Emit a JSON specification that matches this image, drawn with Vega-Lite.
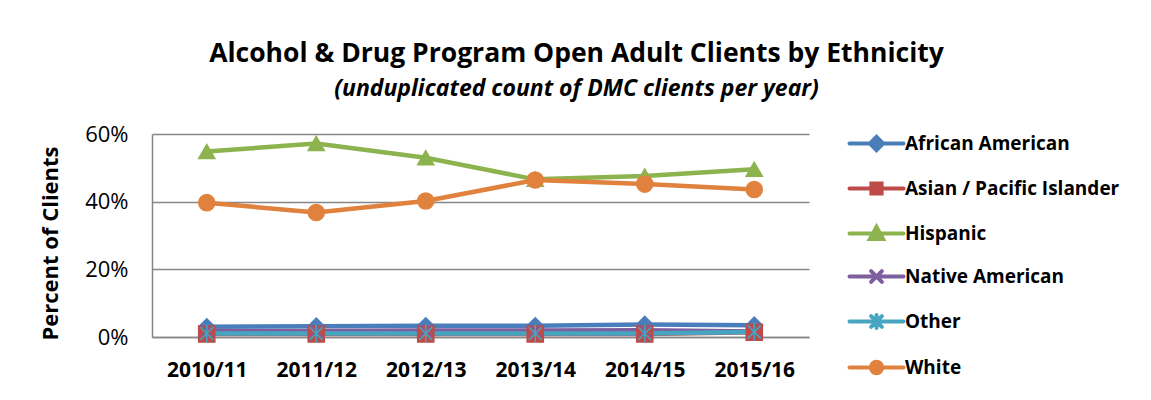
{
  "$schema": "https://vega.github.io/schema/vega-lite/v6.json",
  "width": 657,
  "height": 203,
  "autosize": {"type": "none"},
  "padding": {"left": 152, "top": 134, "right": 342, "bottom": 63},
  "background": "white",
  "title": {
    "text": "Alcohol & Drug Program Open Adult Clients by Ethnicity",
    "subtitle": "(unduplicated count of DMC clients per year)",
    "anchor": "middle",
    "frame": "group",
    "dx": 96,
    "offset": 22,
    "font": "Open Sans",
    "fontSize": 26.5,
    "fontWeight": "bold",
    "color": "#000000",
    "subtitleFont": "Open Sans",
    "subtitleFontSize": 23,
    "subtitleFontWeight": "bold",
    "subtitleFontStyle": "italic",
    "subtitleColor": "#000000",
    "subtitlePadding": 11
  },
  "config": {
    "view": {"stroke": null},
    "font": "Open Sans",
    "legend": {
      "labelFont": "Open Sans",
      "labelFontSize": 19,
      "labelFontWeight": "bold",
      "labelColor": "#000000",
      "labelLimit": 400
    }
  },
  "data": {
    "values": [
      {"Year": "2010/11", "Ethnicity": "African American", "Pct": 3.0},
      {"Year": "2011/12", "Ethnicity": "African American", "Pct": 3.2},
      {"Year": "2012/13", "Ethnicity": "African American", "Pct": 3.3},
      {"Year": "2013/14", "Ethnicity": "African American", "Pct": 3.3},
      {"Year": "2014/15", "Ethnicity": "African American", "Pct": 3.7},
      {"Year": "2015/16", "Ethnicity": "African American", "Pct": 3.5},
      {"Year": "2010/11", "Ethnicity": "Asian / Pacific Islander", "Pct": 0.9},
      {"Year": "2011/12", "Ethnicity": "Asian / Pacific Islander", "Pct": 0.9},
      {"Year": "2012/13", "Ethnicity": "Asian / Pacific Islander", "Pct": 0.9},
      {"Year": "2013/14", "Ethnicity": "Asian / Pacific Islander", "Pct": 0.9},
      {"Year": "2014/15", "Ethnicity": "Asian / Pacific Islander", "Pct": 0.9},
      {"Year": "2015/16", "Ethnicity": "Asian / Pacific Islander", "Pct": 1.4},
      {"Year": "2010/11", "Ethnicity": "Hispanic", "Pct": 54.8},
      {"Year": "2011/12", "Ethnicity": "Hispanic", "Pct": 57.2},
      {"Year": "2012/13", "Ethnicity": "Hispanic", "Pct": 53.0},
      {"Year": "2013/14", "Ethnicity": "Hispanic", "Pct": 46.6},
      {"Year": "2014/15", "Ethnicity": "Hispanic", "Pct": 47.6},
      {"Year": "2015/16", "Ethnicity": "Hispanic", "Pct": 49.6},
      {"Year": "2010/11", "Ethnicity": "Native American", "Pct": 1.8},
      {"Year": "2011/12", "Ethnicity": "Native American", "Pct": 1.8},
      {"Year": "2012/13", "Ethnicity": "Native American", "Pct": 1.9},
      {"Year": "2013/14", "Ethnicity": "Native American", "Pct": 1.9},
      {"Year": "2014/15", "Ethnicity": "Native American", "Pct": 2.0},
      {"Year": "2015/16", "Ethnicity": "Native American", "Pct": 1.6},
      {"Year": "2010/11", "Ethnicity": "Other", "Pct": 1.0},
      {"Year": "2011/12", "Ethnicity": "Other", "Pct": 1.0},
      {"Year": "2012/13", "Ethnicity": "Other", "Pct": 1.0},
      {"Year": "2013/14", "Ethnicity": "Other", "Pct": 1.0},
      {"Year": "2014/15", "Ethnicity": "Other", "Pct": 1.0},
      {"Year": "2015/16", "Ethnicity": "Other", "Pct": 1.5},
      {"Year": "2010/11", "Ethnicity": "White", "Pct": 39.7},
      {"Year": "2011/12", "Ethnicity": "White", "Pct": 36.8},
      {"Year": "2012/13", "Ethnicity": "White", "Pct": 40.2},
      {"Year": "2013/14", "Ethnicity": "White", "Pct": 46.4},
      {"Year": "2014/15", "Ethnicity": "White", "Pct": 45.2},
      {"Year": "2015/16", "Ethnicity": "White", "Pct": 43.6}
    ]
  },
  "encoding": {
    "x": {
      "field": "Year",
      "type": "ordinal",
      "sort": ["2010/11", "2011/12", "2012/13", "2013/14", "2014/15", "2015/16"],
      "scale": {"type": "point", "padding": 0.5},
      "axis": {
        "title": null,
        "labelAngle": 0,
        "labelFont": "Open Sans",
        "labelFontSize": 21,
        "labelFontWeight": "bold",
        "labelColor": "#000000",
        "labelPadding": 22,
        "ticks": false,
        "domain": true,
        "domainColor": "#868686",
        "domainWidth": 1.5,
        "grid": false
      }
    },
    "y": {
      "field": "Pct",
      "type": "quantitative",
      "scale": {"domain": [0, 60], "nice": false},
      "axis": {
        "title": "Percent of Clients",
        "titleFont": "Open Sans",
        "titleFontSize": 22,
        "titleFontWeight": "bold",
        "titleColor": "#000000",
        "titlePadding": 22,
        "titleY": 109,
        "values": [0, 20, 40, 60],
        "labelExpr": "datum.value + '%'",
        "labelFont": "Open Sans",
        "labelFontSize": 22,
        "labelColor": "#000000",
        "labelPadding": 24,
        "ticks": false,
        "domain": true,
        "domainColor": "#868686",
        "domainWidth": 1.5,
        "grid": true,
        "gridColor": "#868686",
        "gridWidth": 1.5
      }
    },
    "color": {
      "field": "Ethnicity",
      "type": "nominal",
      "scale": {
        "domain": ["African American", "Asian / Pacific Islander", "Hispanic", "Native American", "Other", "White"],
        "range": ["#4A7EBB", "#BE4B48", "#8DB34F", "#7D5FA0", "#46A6C1", "#E0823D"]
      },
      "legend": {
        "title": null,
        "orient": "right",
        "offset": 58,
        "padding": 0,
        "symbolSize": 144,
        "symbolStrokeWidth": 4,
        "labelOffset": 19,
        "rowPadding": 16,
        "encode": {
          "symbols": {
            "update": {
              "shape": {"signal": "datum.value === 'African American' ? 'M-4.5,0H4.5M0,-1.1L1.1,0L0,1.1L-1.1,0Z' : datum.value === 'Asian / Pacific Islander' ? 'M-4.5,0H4.5M-0.85,-0.85H0.85V0.85H-0.85Z' : datum.value === 'Hispanic' ? 'M-4.5,0H4.5M0,-1.1L1.1,0.9L-1.1,0.9Z' : datum.value === 'Native American' ? 'M-4.5,0H4.5M-0.9,-0.9L0.9,0.9M-0.9,0.9L0.9,-0.9' : datum.value === 'Other' ? 'M-4.5,0H4.5M-0.9,-0.9L0.9,0.9M-0.9,0.9L0.9,-0.9M0,-1.1V1.1' : 'M-4.5,0H4.5M-0.95,0A0.95,0.95,0,1,0,0.95,0A0.95,0.95,0,1,0,-0.95,0Z'"},
              "fill": {"scale": "color", "field": "value"},
              "stroke": {"scale": "color", "field": "value"},
              "strokeWidth": {"value": 4},
              "strokeCap": {"value": "round"},
              "opacity": {"value": 1}
            }
          }
        }
      }
    }
  },
  "layer": [
    {
      "mark": {"type": "line", "strokeWidth": 4.5, "strokeCap": "round", "strokeJoin": "round"}
    },
    {
      "mark": {
        "type": "point",
        "filled": true,
        "size": 260,
        "strokeWidth": 1.5,
        "opacity": 1,
        "fillOpacity": 1,
        "shape": {"expr": "datum.Ethnicity === 'African American' ? 'diamond' : datum.Ethnicity === 'Asian / Pacific Islander' ? 'square' : datum.Ethnicity === 'Hispanic' ? 'triangle-up' : datum.Ethnicity === 'Native American' ? 'M-0.8,-0.8L0.8,0.8M-0.8,0.8L0.8,-0.8' : datum.Ethnicity === 'Other' ? 'M-0.8,-0.8L0.8,0.8M-0.8,0.8L0.8,-0.8M0,-1.1V1.1' : 'circle'"},
        "stroke": {"expr": "scale('color', datum.Ethnicity)"}
      }
    }
  ]
}
